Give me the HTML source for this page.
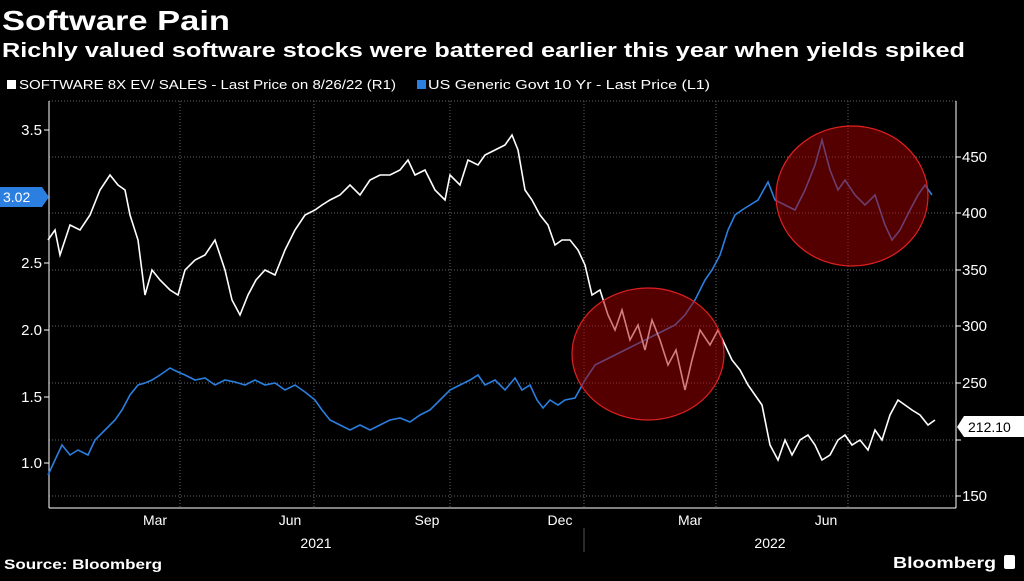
<!DOCTYPE html>
<html><head><meta charset="utf-8"><style>
body{margin:0;background:#000;width:1024px;height:576px;overflow:hidden;font-family:"Liberation Sans",sans-serif}
</style></head><body>
<svg width="1024" height="576" viewBox="0 0 1024 576" xmlns="http://www.w3.org/2000/svg" font-family="Liberation Sans, sans-serif">
<rect width="1024" height="576" fill="#000"/>
<text x="2" y="30" fill="#fff" font-size="28" font-weight="bold" textLength="228" lengthAdjust="spacingAndGlyphs">Software Pain</text>
<text x="2" y="57" fill="#fff" font-size="20" font-weight="bold" textLength="963" lengthAdjust="spacingAndGlyphs">Richly valued software stocks were battered earlier this year when yields spiked</text>
<rect x="7" y="80" width="9" height="9" fill="#fff"/>
<text x="19" y="89" fill="#fff" font-size="13" textLength="377" lengthAdjust="spacingAndGlyphs">SOFTWARE 8X EV/ SALES - Last Price on 8/26/22 (R1)</text>
<rect x="417" y="80" width="9" height="9" fill="#2a7fe0"/>
<text x="428" y="89" fill="#fff" font-size="13" textLength="282" lengthAdjust="spacingAndGlyphs">US Generic Govt 10 Yr - Last Price (L1)</text>
<g stroke="#666" stroke-dasharray="1,2" stroke-width="1">
<line x1="49" y1="101" x2="956" y2="101"/>
<line x1="49" y1="157" x2="956" y2="157"/><line x1="49" y1="213" x2="956" y2="213"/>
<line x1="49" y1="270" x2="956" y2="270"/><line x1="49" y1="326" x2="956" y2="326"/>
<line x1="49" y1="383" x2="956" y2="383"/><line x1="49" y1="440" x2="956" y2="440"/>
<line x1="49" y1="496" x2="956" y2="496"/>
<line x1="180" y1="101" x2="180" y2="508"/><line x1="314" y1="101" x2="314" y2="508"/>
<line x1="450" y1="101" x2="450" y2="508"/><line x1="584" y1="101" x2="584" y2="508"/>
<line x1="716" y1="101" x2="716" y2="508"/><line x1="848" y1="101" x2="848" y2="508"/>
</g>
<g stroke="#fff" stroke-width="1" fill="none">
<line x1="49" y1="101" x2="49" y2="508"/><line x1="956" y1="101" x2="956" y2="508"/>
<line x1="49" y1="508" x2="956" y2="508"/>
<line x1="584" y1="528" x2="584" y2="552" stroke="#555"/>
</g>
<g fill="#fff" font-size="15">
<text x="42" y="135" text-anchor="end">3.5</text><text x="42" y="268" text-anchor="end">2.5</text>
<text x="42" y="335" text-anchor="end">2.0</text><text x="42" y="402" text-anchor="end">1.5</text>
<text x="42" y="468" text-anchor="end">1.0</text>
<text x="962" y="162">450</text><text x="962" y="218">400</text><text x="962" y="275">350</text>
<text x="962" y="331">300</text><text x="962" y="388">250</text><text x="962" y="501">150</text>
<g font-size="14" text-anchor="middle">
<text x="155" y="525">Mar</text><text x="290" y="525">Jun</text><text x="427" y="525">Sep</text>
<text x="560" y="525">Dec</text><text x="690" y="525">Mar</text><text x="826" y="525">Jun</text>
<text x="316" y="548">2021</text><text x="770" y="548">2022</text></g>
</g>
<g stroke="#fff"><line x1="44" y1="130" x2="49" y2="130"/><line x1="44" y1="263" x2="49" y2="263"/><line x1="44" y1="330" x2="49" y2="330"/><line x1="44" y1="397" x2="49" y2="397"/><line x1="44" y1="463" x2="49" y2="463"/>
<line x1="956" y1="157" x2="961" y2="157"/><line x1="956" y1="213" x2="961" y2="213"/><line x1="956" y1="270" x2="961" y2="270"/><line x1="956" y1="326" x2="961" y2="326"/><line x1="956" y1="383" x2="961" y2="383"/><line x1="956" y1="440" x2="961" y2="440"/><line x1="956" y1="496" x2="961" y2="496"/></g>
<polyline fill="none" stroke="#2a7fe0" stroke-width="1.6" points="48,475 55,460 62,445 70,455 78,450 88,455 95,440 105,430 115,420 122,410 130,395 138,385 145,383 152,380 160,375 170,368 178,372 185,375 195,380 205,378 215,385 225,380 235,382 245,385 255,380 265,385 275,383 285,390 295,385 305,392 315,400 322,410 330,420 340,425 350,430 360,425 370,430 380,425 390,420 400,418 410,422 420,415 430,410 440,400 450,390 460,385 470,380 478,375 485,385 495,380 505,390 515,378 522,390 530,385 537,400 543,408 550,400 558,405 565,400 575,398 585,380 595,365 605,360 615,355 625,350 635,345 645,340 655,335 665,330 675,325 685,315 695,300 705,280 712,270 720,255 728,230 735,215 742,210 750,205 758,200 768,182 775,200 785,205 795,210 805,190 815,165 822,140 830,170 838,190 845,180 855,195 865,205 875,195 885,225 892,240 900,230 910,210 918,195 925,185 932,195"/>
<polyline fill="none" stroke="#fff" stroke-width="1.6" points="48,240 55,230 60,255 70,225 80,230 90,215 100,190 110,175 118,185 125,190 130,215 138,240 145,295 152,270 160,280 170,290 178,295 185,270 195,260 205,255 215,240 225,270 232,300 240,315 248,295 256,280 265,270 275,275 285,250 295,230 305,215 315,210 322,205 330,200 340,195 350,185 360,195 370,180 380,175 390,175 400,170 408,160 415,175 425,170 435,190 445,200 450,175 460,185 468,160 478,165 485,155 495,150 505,145 512,135 518,150 525,190 532,200 540,215 548,225 555,245 562,240 570,240 578,250 585,265 592,295 600,290 608,315 615,330 622,310 630,340 638,325 645,350 652,320 660,340 668,365 676,350 685,390 692,360 700,330 710,345 718,330 725,345 732,360 740,370 748,385 755,395 762,405 770,445 778,460 785,440 792,455 800,440 808,435 815,445 822,460 830,455 838,440 845,435 852,445 860,440 868,450 875,430 882,440 890,415 898,400 905,405 912,410 920,415 928,425 935,420"/>
<ellipse cx="648" cy="354" rx="76" ry="66" fill="rgba(170,0,0,0.5)" stroke="#e02020" stroke-width="1.2"/>
<ellipse cx="852" cy="196" rx="76" ry="70" fill="rgba(170,0,0,0.5)" stroke="#e02020" stroke-width="1.2"/>
<polygon points="0,187 42,187 49,197 42,207 0,207" fill="#2a7fe0"/>
<text x="3" y="202" fill="#fff" font-size="14">3.02</text>
<polygon points="964,416 1024,416 1024,437 964,437 957,427" fill="#fff"/>
<text x="968" y="432" fill="#000" font-size="14">212.10</text>
<text x="4" y="569" fill="#fff" font-size="14" font-weight="bold" textLength="158" lengthAdjust="spacingAndGlyphs">Source: Bloomberg</text>
<text x="893" y="568" fill="#fff" font-size="16" font-weight="bold" textLength="103" lengthAdjust="spacingAndGlyphs">Bloomberg</text>
<rect x="1004" y="555" width="11" height="14" rx="2" fill="#fff"/>
</svg>
</body></html>
